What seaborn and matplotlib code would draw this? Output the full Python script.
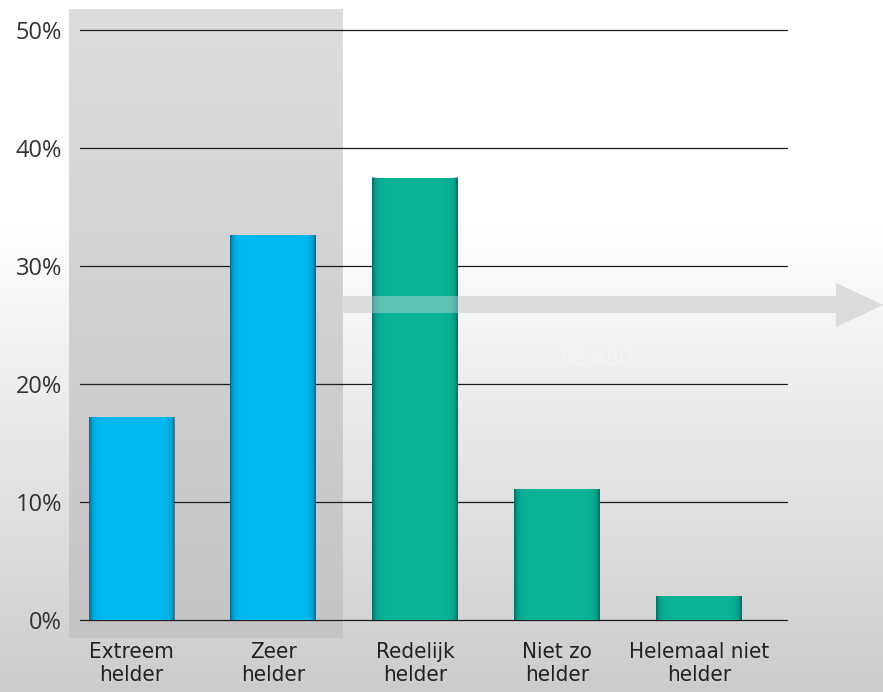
import numpy as np
import matplotlib
matplotlib.use("Agg")
import matplotlib.pyplot as plt
import seaborn as sns
from matplotlib.patches import Polygon

categories = ["Extreem\nhelder", "Zeer\nhelder", "Redelijk\nhelder", "Niet zo\nhelder", "Helemaal niet\nhelder"]
values = [17.2, 32.6, 37.5, 11.1, 2.0]
bar_colors = ["#00b9f0", "#00b9f0", "#09b394", "#09b394", "#09b394"]
yticks = [0, 10, 20, 30, 40, 50]
ytick_labels = ["0%", "10%", "20%", "30%", "40%", "50%"]

sns.set_theme(style="white")
plt.rcParams["font.family"] = ["DejaVu Sans"]

W, H = 883, 692
fig = plt.figure(figsize=(W / 100, H / 100), dpi=100)

# background gradient
bg = fig.add_axes([0, 0, 1, 1], zorder=-10)
bg.axis("off")
rows = np.linspace(0, 1, 300)
g = np.where(rows < 0.33, 1.0, 1.0 - (rows - 0.33) / 0.67 * 0.2)
img = np.dstack([g, g, g * 1.005]).reshape(300, 1, 3).clip(0, 1)
bg.imshow(np.repeat(img, 2, axis=1), aspect="auto", extent=[0, 1, 0, 1])
bg.set_xlim(0, 1)
bg.set_ylim(0, 1)

ax = fig.add_axes([80 / W, 1 - 620 / H, (787 - 80) / W, (620 - 30) / H])
ax.patch.set_alpha(0)

sns.barplot(x=categories, y=values, hue=categories, palette=bar_colors, legend=False,
            width=0.6, saturation=1, ax=ax, zorder=3, linewidth=0)

# gray highlight panel behind first two bars
panel = np.linspace(0, 1, 200)
pr = 0.865 - panel * 0.095
pimg = np.dstack([pr, pr, pr + 0.006]).reshape(200, 1, 3).clip(0, 1)
ax.imshow(np.repeat(pimg, 2, axis=1), aspect="auto",
          extent=[-0.437, 1.486, -1.5, 51.8], zorder=0.2, clip_on=False)

# edge shading on bars
t = np.linspace(0, 1, 200)
alpha = 0.6 * (np.exp(-t / 0.035) + np.exp(-(1 - t) / 0.035))
shade = np.zeros((1, 200, 4))
shade[0, :, 1] = 0.2
shade[0, :, 2] = 0.3
shade[0, :, 3] = alpha.clip(0, 0.65)
for p in ax.patches:
    x0, w, h = p.get_x(), p.get_width(), p.get_height()
    ax.imshow(shade, aspect="auto", extent=[x0, x0 + w, 0, h], zorder=3.5,
              interpolation="bilinear")

ax.set_xlim(-0.36, 4.62)
ax.set_ylim(0, 50)
ax.set_yticks(yticks)
ax.set_yticklabels(ytick_labels, fontsize=17, color="#333333", family=["Open Sans", "DejaVu Sans"])
ax.yaxis.grid(True, color="#1e1e1e", linewidth=0.9, zorder=0.5)
for gl in ax.get_ygridlines():
    gl.set_clip_on(False)
ax.xaxis.grid(False)
ax.set_axisbelow(True)
for s in ax.spines.values():
    s.set_visible(False)
ax.tick_params(axis="y", length=0, pad=13)
ax.tick_params(axis="x", length=0, pad=16)
for lab in ax.get_xticklabels():
    lab.set_fontsize(16)
    lab.set_fontstretch("condensed")
    lab.set_color("#222222")
    lab.set_linespacing(1.2)
ax.set_xlabel("")
ax.set_ylabel("")

# arrow (figure pixel coordinates)
pts_px = [(342, 296), (836, 296), (836, 283), (883, 305), (836, 327), (836, 313), (342, 313)]
pts = [(x / W, 1 - y / H) for x, y in pts_px]
fig.patches.append(Polygon(pts, closed=True, transform=fig.transFigure,
                           facecolor="#d9dadb", edgecolor="none", zorder=-5))
ax.add_patch(Polygon(pts, closed=True, transform=fig.transFigure,
                     facecolor="#e0e1e2", edgecolor="none", alpha=0.4, zorder=6, clip_on=False))

fig.text(597 / W, 1 - 360 / H, "88\u279460", color="white", alpha=0.3, fontsize=17,
         ha="center", va="center", family=["Open Sans", "DejaVu Sans"])

fig.savefig("out.png", dpi=100)
